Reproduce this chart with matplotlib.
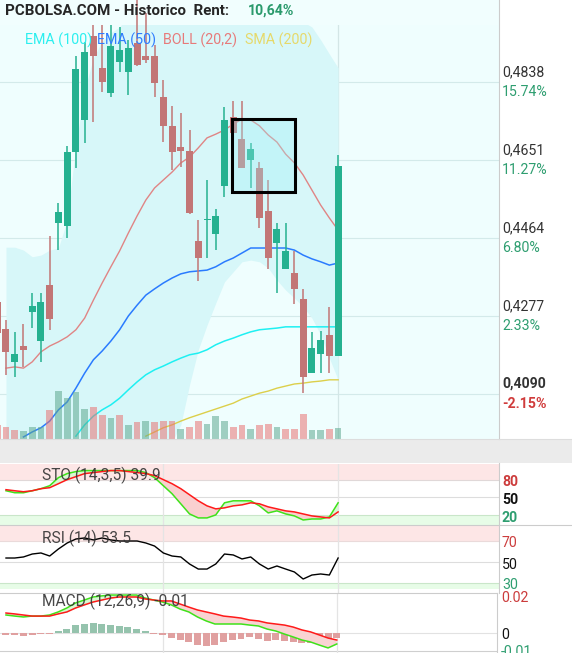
import numpy as np
import matplotlib
matplotlib.use("Agg")
import matplotlib.pyplot as plt
import matplotlib.transforms as mtransforms
from matplotlib.patches import Rectangle
from matplotlib.lines import Line2D

plt.rcParams['font.family'] = ['Roboto', 'DejaVu Sans']

# ------------------------------------------------------------------ data
first_day = -1  # index of first (partially visible) session
opens = [0.4311, 0.4246, 0.4167, 0.4205, 0.4287, 0.4217, 0.4351, 0.4500, 0.4493, 0.4670,
         0.4747, 0.4948, 0.4872, 0.4812, 0.4886, 0.4862, 0.4932, 0.4900, 0.4900, 0.4802,
         0.4733, 0.4682, 0.4673, 0.4457, 0.4507, 0.4474, 0.4589, 0.4754, 0.4701, 0.4651,
         0.4632, 0.4529, 0.4452, 0.4390, 0.4380, 0.4318, 0.4140, 0.4186, 0.4232, 0.4181]
highs = [0.4320, 0.4267, 0.4239, 0.4258, 0.4332, 0.4332, 0.4469, 0.4548, 0.4685, 0.4900,
         0.4934, 0.4975, 0.4975, 0.4975, 0.4970, 0.4939, 0.5040, 0.5003, 0.4927, 0.4843,
         0.4781, 0.4764, 0.4723, 0.4507, 0.4603, 0.4534, 0.4778, 0.4793, 0.4793, 0.4692,
         0.4646, 0.4603, 0.4500, 0.4500, 0.4433, 0.4342, 0.4239, 0.4241, 0.4299, 0.4663]
lows = [0.4208, 0.4136, 0.4131, 0.4155, 0.4248, 0.4167, 0.4244, 0.4435, 0.4464, 0.4632,
        0.4692, 0.4742, 0.4814, 0.4802, 0.4862, 0.4807, 0.4876, 0.4884, 0.4802, 0.4694,
        0.4627, 0.4634, 0.4522, 0.4361, 0.4416, 0.4435, 0.4562, 0.4716, 0.4632, 0.4584,
        0.4488, 0.4390, 0.4332, 0.4390, 0.4306, 0.4092, 0.4140, 0.4140, 0.4140, 0.4181]
closes = [0.4236, 0.4191, 0.4186, 0.4196, 0.4301, 0.4311, 0.4270, 0.4526, 0.4670, 0.4869,
          0.4910, 0.4900, 0.4838, 0.4924, 0.4915, 0.4920, 0.4879, 0.4891, 0.4836, 0.4733,
          0.4670, 0.4672, 0.4524, 0.4416, 0.4509, 0.4517, 0.4747, 0.4716, 0.4632, 0.4677,
          0.4512, 0.4416, 0.4486, 0.4433, 0.4342, 0.4131, 0.4200, 0.4220, 0.4181, 0.4637]
volumes = [1.4, 1.2, 0.9, 0.8, 1.2, 1.2, 2.9, 4.8, 4.1, 4.7,
           3.0, 3.2, 2.4, 2.1, 2.4, 1.4, 1.7, 1.8, 1.7, 1.8,
           1.8, 1.0, 1.2, 1.8, 1.5, 2.3, 1.8, 1.2, 1.4, 1.0,
           1.4, 1.5, 1.2, 1.0, 1.0, 2.5, 0.9, 0.9, 1.0, 1.1]

# indicators (start at session 0)
boll_mid = [0.4152, 0.4155, 0.4152, 0.4167, 0.4191, 0.4205, 0.4215, 0.4227, 0.4244, 0.4272,
            0.4315, 0.4356, 0.4395, 0.4433, 0.4476, 0.4517, 0.4555, 0.4584, 0.4603, 0.4622,
            0.4644, 0.4658, 0.4680, 0.4704, 0.4713, 0.4723, 0.4737, 0.4749, 0.4747, 0.4733,
            0.4711, 0.4694, 0.4665, 0.4644, 0.4615, 0.4579, 0.4543, 0.4512, 0.4483]
boll_up = [0.4442, 0.4442, 0.4435, 0.4419, 0.4423, 0.4435, 0.4440, 0.4507, 0.4687, 0.4819,
           0.4896, 0.4936, 0.4956, 0.4970, 0.4999, 0.5023, 0.5047, 0.5071, 0.5095, 0.5107,
           0.5119, 0.5126, 0.5131, 0.5131, 0.5126, 0.5119, 0.5107, 0.5095, 0.5083, 0.5071,
           0.5054, 0.5035, 0.5015, 0.4999, 0.4982, 0.4970, 0.4939, 0.4905, 0.4872]
boll_low = [0.3862, 0.3867, 0.3870, 0.3915, 0.3958, 0.3968, 0.3968, 0.3956, 0.3812, 0.3692,
            0.3716, 0.3764, 0.3824, 0.3884, 0.3908, 0.3932, 0.3951, 0.3961, 0.3968, 0.3975,
            0.4016, 0.4112, 0.4196, 0.4255, 0.4308, 0.4359, 0.4383, 0.4407, 0.4411, 0.4407,
            0.4392, 0.4363, 0.4339, 0.4320, 0.4299, 0.4272, 0.4232, 0.4176, 0.4124]
ema50_start = 2
ema50 = [0.3987, 0.3999, 0.4009, 0.4025, 0.4052, 0.4071, 0.4104, 0.4140, 0.4172, 0.4193,
         0.4217, 0.4244, 0.4277, 0.4303, 0.4327, 0.4342, 0.4356, 0.4368, 0.4378, 0.4383,
         0.4385, 0.4387, 0.4395, 0.4407, 0.4416, 0.4428, 0.4440, 0.4440, 0.4440, 0.4440,
         0.4440, 0.4435, 0.4423, 0.4414, 0.4407, 0.4399, 0.4404]
ema100_start = 8
ema100 = [0.3989, 0.4016, 0.4037, 0.4052, 0.4064, 0.4080, 0.4100, 0.4119, 0.4136, 0.4148,
          0.4157, 0.4167, 0.4176, 0.4184, 0.4188, 0.4196, 0.4208, 0.4217, 0.4224, 0.4232,
          0.4239, 0.4244, 0.4246, 0.4248, 0.4251, 0.4251, 0.4251, 0.4251, 0.4251, 0.4251, 0.4251]
sma200_start = 16
sma200 = [0.3989, 0.3999, 0.4009, 0.4016, 0.4025, 0.4033, 0.4040, 0.4047, 0.4054, 0.4061,
          0.4068, 0.4078, 0.4085, 0.4092, 0.4097, 0.4104, 0.4109, 0.4114, 0.4116, 0.4119,
          0.4121, 0.4124, 0.4124]

sto_k = [61.1, 57.7, 57.7, 61.1, 64.6, 69.7, 83.4, 90.3, 93.7, 95.4,
         95.4, 95.4, 95.4, 95.4, 95.4, 95.4, 92.0, 83.4, 69.7, 56.0,
         38.9, 21.7, 14.9, 14.9, 20.0, 40.6, 44.0, 44.0, 44.0, 35.4,
         23.4, 26.9, 21.7, 18.3, 11.4, 13.1, 13.1, 16.6, 40.6]
sto_d = [62.9, 61.1, 59.4, 61.1, 64.6, 66.3, 73.1, 80.0, 85.1, 90.3,
         92.0, 93.7, 95.4, 95.4, 93.7, 92.0, 90.3, 86.9, 80.0, 73.1,
         64.6, 54.3, 44.0, 35.4, 30.3, 32.0, 35.4, 37.1, 40.6, 38.9,
         33.7, 30.3, 26.9, 25.1, 21.7, 18.3, 16.6, 14.9, 25.1]
rsi = [53.8, 53.8, 54.8, 57.6, 58.6, 55.7, 62.4, 68.1, 71.9, 72.9,
       71.0, 72.9, 71.0, 70.0, 70.0, 70.0, 68.1, 65.2, 58.6, 55.7,
       54.8, 48.1, 43.3, 43.3, 48.1, 57.6, 56.7, 52.9, 54.8, 48.1,
       43.3, 46.2, 43.3, 40.5, 33.8, 37.6, 38.6, 37.6, 53.8]
macd_line = [0.0100, 0.0094, 0.0089, 0.0094, 0.0094, 0.0100, 0.0117, 0.0139, 0.0167, 0.0183,
             0.0200, 0.0206, 0.0211, 0.0211, 0.0211, 0.0211, 0.0194, 0.0183, 0.0172, 0.0156,
             0.0133, 0.0117, 0.0089, 0.0067, 0.0050, 0.0050, 0.0050, 0.0050, 0.0044, 0.0039,
             0.0022, 0.0011, -0.0006, -0.0022, -0.0039, -0.0050, -0.0067, -0.0083, -0.0061]
macd_signal = [0.0111, 0.0106, 0.0100, 0.0094, 0.0094, 0.0094, 0.0106, 0.0117, 0.0139, 0.0156,
               0.0172, 0.0183, 0.0194, 0.0200, 0.0200, 0.0200, 0.0189, 0.0183, 0.0178, 0.0178,
               0.0161, 0.0144, 0.0128, 0.0117, 0.0106, 0.0094, 0.0089, 0.0083, 0.0072, 0.0067,
               0.0056, 0.0050, 0.0044, 0.0033, 0.0017, 0.0006, -0.0011, -0.0028, -0.0039]
macd_hist = [-0.0009, -0.0011, -0.0015, -0.0009, -0.0006, -0.0006, 0.0009, 0.0024, 0.0046, 0.0052,
             0.0057, 0.0052, 0.0046, 0.0037, 0.0032, 0.0022, 0.0009, -0.0004, -0.0013, -0.0028,
             -0.0037, -0.0052, -0.0068, -0.0071, -0.0065, -0.0050, -0.0037, -0.0032, -0.0024, -0.0032,
             -0.0043, -0.0037, -0.0043, -0.0050, -0.0056, -0.0057, -0.0056, -0.0052, -0.0028]

x_tick_labels = ['Abr', 'May']
x_tick_days = [18, 38]
price_ticks = [0.4838, 0.4651, 0.4464, 0.4277, 0.4090]
price_tick_labels = ['0,4838', '0,4651', '0,4464', '0,4277', '0,4090']
pct_tick_labels = ['15.74%', '11.27%', '6.80%', '2.33%', '-2.15%']
highlight_box = [25.86, 33.07, 0.45743, 0.47493]   # days from/to, price from/to
header_text = 'PCBOLSA.COM - Historico  Rent:'
rent_text = '10,64%'
legend_items = [('EMA (100)', '#2cefef'), ('EMA (50)', '#2f7cff'),
                ('BOLL (20,2)', '#e77a7a'), ('SMA (200)', '#e6d96a')]
sto_title = 'STO (14,3,5) 39.9'
rsi_title = 'RSI (14) 53.5'
macd_title = 'MACD (12,26,9) -0.01'

# ------------------------------------------------------------------ layout helpers
W, H = 572, 653
fig = plt.figure(figsize=(W / 100, H / 100), dpi=100)
fig.patch.set_facecolor('white')


def fpos(x0, y0, x1, y1):
    return [x0 / W, 1 - y1 / H, (x1 - x0) / W, (y1 - y0) / H]


def fx(px):
    return px / W


def fy(py):
    return 1 - py / H


def clean(a):
    for s in a.spines.values():
        s.set_visible(False)
    a.set_xticks([])
    a.set_yticks([])


XLIM = (-0.686, -0.686 + 499 / 8.74)
GREEN = '#25b190'
RED = '#c27676'

days = np.arange(first_day, first_day + len(closes))
o = np.array(opens); c = np.array(closes); hi = np.array(highs); lo = np.array(lows)
ind_days = np.arange(0, len(boll_mid))

# ------------------------------------------------------------------ main panel
ax = fig.add_axes(fpos(0, 0, 499, 439))
ax.set_facecolor('#effefe')
clean(ax)

for p in price_ticks:
    ax.axhline(p, color='#d3eaea', lw=0.8, zorder=0.5)
for d in x_tick_days:
    ax.axvline(d, color='#d3e6e6', lw=0.9, zorder=0.5)

ax.fill_between(ind_days, boll_low, boll_up, color='#d7f7f9', lw=0, zorder=0.8)
# header strip background
ax.add_patch(Rectangle((0, 1 - 25 / 439), 1, 25 / 439, transform=ax.transAxes,
                       facecolor='#f1fefe', lw=0, zorder=1.6))

ax.plot(ind_days, boll_mid, color='#e08585', lw=1.0, zorder=2)
ax.plot(np.arange(ema50_start, ema50_start + len(ema50)), ema50, color='#2a7bff', lw=1.1, zorder=2)
ax.plot(np.arange(ema100_start, ema100_start + len(ema100)), ema100, color='#1ef0f2', lw=1.1, zorder=2)
ax.plot(np.arange(sma200_start, sma200_start + len(sma200)), sma200, color='#dccf4a', lw=1.0, zorder=2)

# volume
vol_up = np.r_[False, c[1:] >= c[:-1]]
vcols = np.where(vol_up, '#5ea88f', '#e87272')
vol_tr = mtransforms.blended_transform_factory(
    ax.transData, mtransforms.Affine2D().scale(1, 1 / 43.9) + ax.transAxes)
ax.bar(days, volumes, width=0.77, color=vcols, alpha=0.55, lw=0, transform=vol_tr, zorder=2.5)

# candles
ccols = np.where(c >= o, GREEN, RED)
ax.vlines(days, lo, hi, colors=ccols, lw=1.1, zorder=3)
ax.bar(days, np.maximum(np.abs(c - o), 0.00006), bottom=np.minimum(o, c), width=0.8,
       color=ccols, lw=0, zorder=3.2)

# highlight box
bx0, bx1, by0, by1 = highlight_box
ax.add_patch(Rectangle((bx0, by0), bx1 - bx0, by1 - by0, facecolor='#9deff7', alpha=0.33,
                       lw=0, zorder=4))
ax.add_patch(Rectangle((bx0, by0), bx1 - bx0, by1 - by0, fill=False, edgecolor='black',
                       lw=2.2, zorder=4.1))

ax.set_xlim(*XLIM)
ax.set_ylim(0.39821, 0.50346)

# right price scale
tr = mtransforms.blended_transform_factory(fig.transFigure, ax.transData)
for i, (p, lab, pct) in enumerate(zip(price_ticks, price_tick_labels, pct_tick_labels)):
    last = i == len(price_ticks) - 1
    ax.text(fx(502), p, lab, transform=mtransforms.offset_copy(tr, fig=fig, y=10, units='dots'),
            fontsize=10.2, color='#333333', va='center', ha='left', clip_on=False,
            fontweight='bold' if last else 'normal')
    ax.text(fx(502), p, pct, transform=mtransforms.offset_copy(tr, fig=fig, y=-10, units='dots'),
            fontsize=10.2, color='#d03c3c' if last else '#2e9e70', va='center', ha='left',
            clip_on=False, fontweight='bold' if last else 'normal')

# header and legend
fig.text(fx(5), fy(11), header_text, fontsize=10.9, fontweight='bold', color='#262626',
         va='center', ha='left')
fig.text(fx(248), fy(11), rent_text, fontsize=10.2, fontweight='bold', color='#2a9a6c',
         va='center', ha='left')
lx = [25, 97, 163, 245]
for (txt, col), x0 in zip(legend_items, lx):
    fig.text(fx(x0), fy(40), txt, fontsize=10.3, color=col, va='center', ha='left')

# separators / x band
fig.add_artist(Line2D([fx(499), fx(499)], [fy(0), fy(439)], color='#cccccc', lw=0.8))
fig.add_artist(Rectangle((0, fy(463)), 1, 24 / H, transform=fig.transFigure,
                         facecolor='#ebebeb', lw=0))
fig.add_artist(Line2D([0, 1], [fy(439), fy(439)], color='#dddddd', lw=0.8))
xtr = mtransforms.blended_transform_factory(ax.transData, fig.transFigure)
for d, lab in zip(x_tick_days, x_tick_labels):
    ax.text(d, fy(452), lab, transform=mtransforms.offset_copy(xtr, fig=fig, x=3, units='dots'),
            fontsize=10.2, color='#333333', ha='center', va='center', clip_on=False)

# ------------------------------------------------------------------ STO
ax_s = fig.add_axes(fpos(0, 463.5, 499, 525))
clean(ax_s)
ax_s.set_facecolor('white')
S_LIM = (2.86, 107.43)
ax_s.axhspan(80, S_LIM[1], color='#fde6e6', lw=0, zorder=0)
ax_s.axhspan(S_LIM[0], 20, color='#e7fce7', lw=0, zorder=0)
ax_s.axhline(80, color='#e0d8d8', lw=0.8, zorder=0.5)
ax_s.axhline(50, color='#dddddd', lw=0.8, zorder=0.5)
ax_s.axhline(20, color='#c9e6c9', lw=0.8, zorder=0.5)
for d in x_tick_days:
    ax_s.axvline(d, color='#e4e4e4', lw=0.9, zorder=0.5)
k = np.array(sto_k); dd = np.array(sto_d)
ax_s.fill_between(ind_days, k, dd, where=k >= dd, interpolate=True, color='#d9f7d3', lw=0, zorder=1)
ax_s.fill_between(ind_days, k, dd, where=k < dd, interpolate=True, color='#f9cfcf', lw=0, zorder=1)
ax_s.plot(ind_days, k, color='#3fe21a', lw=1.1, zorder=2)
ax_s.plot(ind_days, dd, color='#ff1a1a', lw=1.1, zorder=2.1)
ax_s.set_xlim(*XLIM)
ax_s.set_ylim(*S_LIM)

# ------------------------------------------------------------------ RSI
ax_r = fig.add_axes(fpos(0, 525, 499, 593))
clean(ax_r)
ax_r.set_facecolor('white')
R_LIM = (20.48, 85.24)
ax_r.axhspan(70, 84.3, color='#fde6e6', lw=0, zorder=0)
ax_r.axhspan(24.3, 30, color='#e7fce7', lw=0, zorder=0)
ax_r.axhline(70, color='#eadada', lw=0.8, zorder=0.5)
ax_r.axhline(50, color='#dddddd', lw=0.8, zorder=0.5)
ax_r.axhline(30, color='#c9e6c9', lw=0.8, zorder=0.5)
for d in x_tick_days:
    ax_r.axvline(d, color='#e4e4e4', lw=0.9, zorder=0.5)
ax_r.plot(ind_days, rsi, color='black', lw=1.0, zorder=2)
ax_r.set_xlim(*XLIM)
ax_r.set_ylim(*R_LIM)

# ------------------------------------------------------------------ MACD
ax_m = fig.add_axes(fpos(0, 593, 497, 653))
clean(ax_m)
ax_m.set_facecolor('white')
M_LIM = (-0.01111, 0.02222)
ax_m.axhline(0, color='#e2e2e2', lw=0.8, zorder=0.5)
ax_m.axhline(-0.01, color='#cfcfcf', lw=0.8, zorder=0.5)
for d in x_tick_days:
    ax_m.axvline(d, color='#e4e4e4', lw=0.9, zorder=0.5)
hist = np.array(macd_hist)
ax_m.bar(ind_days, hist, width=0.8, color=np.where(hist >= 0, '#95c3ad', '#e0a0a0'), lw=0, zorder=1)
ml = np.array(macd_line); ms = np.array(macd_signal)
ax_m.fill_between(ind_days, ml, ms, where=ml >= ms, interpolate=True, color='#d9f7d3', lw=0, zorder=1.5)
ax_m.fill_between(ind_days, ml, ms, where=ml < ms, interpolate=True, color='#f9d3d3', lw=0, zorder=1.5)
ax_m.plot(ind_days, ml, color='#3fe21a', lw=1.1, zorder=2)
ax_m.plot(ind_days, ms, color='#ff1a1a', lw=1.1, zorder=2.1)
ax_m.set_xlim(*XLIM)
ax_m.set_ylim(*M_LIM)

# separators for lower panels
fig.add_artist(Line2D([fx(499), fx(499)], [fy(463), fy(593)], color='#cccccc', lw=0.8))
fig.add_artist(Line2D([fx(497), fx(497)], [fy(593), fy(653)], color='#cccccc', lw=0.8))
fig.add_artist(Line2D([0, 1], [fy(525), fy(525)], color='#cccccc', lw=0.8))
fig.add_artist(Line2D([0, fx(497)], [fy(593), fy(593)], color='#cccccc', lw=0.8))

# panel titles
for t, yy in [(sto_title, 475), (rsi_title, 538), (macd_title, 601)]:
    fig.text(fx(42), fy(yy), t, fontsize=11.2, color='#333333', alpha=0.9,
             va='center', ha='left', zorder=6)

# right scale labels of lower panels
fig.text(fx(502), fy(482), '80', fontsize=10.2, fontweight='bold', color='#cc3c3c', va='center')
fig.text(fx(502), fy(500), '50', fontsize=10.2, fontweight='bold', color='#111111', va='center')
fig.text(fx(502), fy(518), '20', fontsize=10.2, fontweight='bold', color='#2e9e70', va='center')
fig.text(fx(502), fy(543), '70', fontsize=10.2, color='#cc3c3c', va='center')
fig.text(fx(502), fy(565), '50', fontsize=10.2, color='#111111', va='center')
t30 = fig.text(fx(502), fy(585), '30', fontsize=10.2, color='#2e9e70', va='center')
t30.set_clip_box(mtransforms.Bbox.from_extents(490, H - 589.5, W, H))
t30.set_clip_on(True)
fig.text(fx(501), fy(598), '0.02', fontsize=10.2, color='#cc3c3c', va='center', zorder=5)
fig.text(fx(501), fy(635), '0', fontsize=10.2, color='#111111', va='center', zorder=5)
fig.text(fx(501), fy(652), '-0.01', fontsize=10.2, color='#2e9e70', va='center', zorder=5)

fig.savefig('out.png', dpi=100)
